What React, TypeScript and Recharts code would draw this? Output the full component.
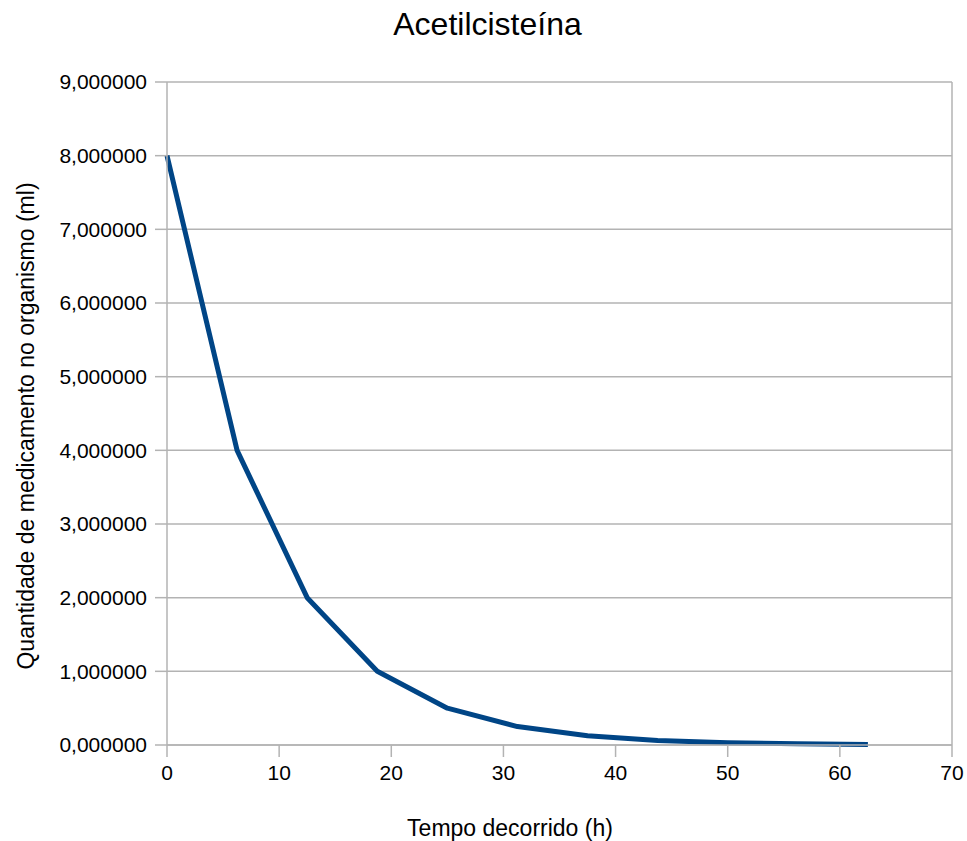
import React from 'react';
import { LineChart, Line, XAxis, YAxis, CartesianGrid, ReferenceLine, Label } from 'recharts';

const hours = [0, 6.25, 12.5, 18.75, 25, 31.25, 37.5, 43.75, 50, 56.25, 62.5];
const quantity = [8, 4, 2, 1, 0.5, 0.25, 0.125, 0.0625, 0.03125, 0.015625, 0.0078125];
const xTicks = [0, 10, 20, 30, 40, 50, 60, 70];
const yTicks = [0, 1, 2, 3, 4, 5, 6, 7, 8, 9];

const data = hours.map((h, i) => ({ h, q: quantity[i] }));

const FONT = '"Liberation Sans", Arial, sans-serif';
const GRID = '#b3b3b3';

const fmtY = (v: number) => v.toFixed(6).replace('.', ',');

export default function App() {
  return (
    <div style={{ position: 'absolute', left: 0, top: 0, width: 967, height: 841, background: '#fff', fontFamily: FONT }}>
      <div style={{ position: 'absolute', top: 6, left: 0, width: 975, textAlign: 'center', fontSize: 32, color: '#000' }}>
        Acetilcisteína
      </div>
      <LineChart width={967} height={841} data={data} margin={{ top: 82, right: 15, left: 0, bottom: 0 }}>
        <CartesianGrid vertical={false} stroke={GRID} strokeWidth={1.5} />
        <XAxis
          dataKey="h"
          type="number"
          domain={[0, 70]}
          ticks={xTicks}
          height={96}
          tickSize={12}
          tickMargin={8}
          stroke={GRID}
          strokeWidth={1.5}
          tick={{ fill: '#000', fontSize: 21, fontFamily: FONT }}
        >
          <Label
            content={() => (
              <text x={510} y={836} textAnchor="middle" fontSize={23} fontFamily={FONT} fill="#000">
                Tempo decorrido (h)
              </text>
            )}
          />
        </XAxis>
        <YAxis
          type="number"
          domain={[0, 9]}
          ticks={yTicks}
          width={167}
          tickSize={12}
          tickMargin={8}
          stroke={GRID}
          strokeWidth={1.5}
          tickFormatter={fmtY}
          tick={{ fill: '#000', fontSize: 21, fontFamily: FONT }}
        >
          <Label
            content={() => (
              <text
                x={0}
                y={0}
                transform="translate(34,426) rotate(-90)"
                textAnchor="middle"
                fontSize={23}
                fontFamily={FONT}
                fill="#000"
              >
                Quantidade de medicamento no organismo (ml)
              </text>
            )}
          />
        </YAxis>
        <ReferenceLine x={70} stroke={GRID} strokeWidth={1.5} />
        <Line
          dataKey="q"
          stroke="#004586"
          strokeWidth={5}
          dot={false}
          isAnimationActive={false}
          strokeLinejoin="round"
        />
      </LineChart>
    </div>
  );
}
